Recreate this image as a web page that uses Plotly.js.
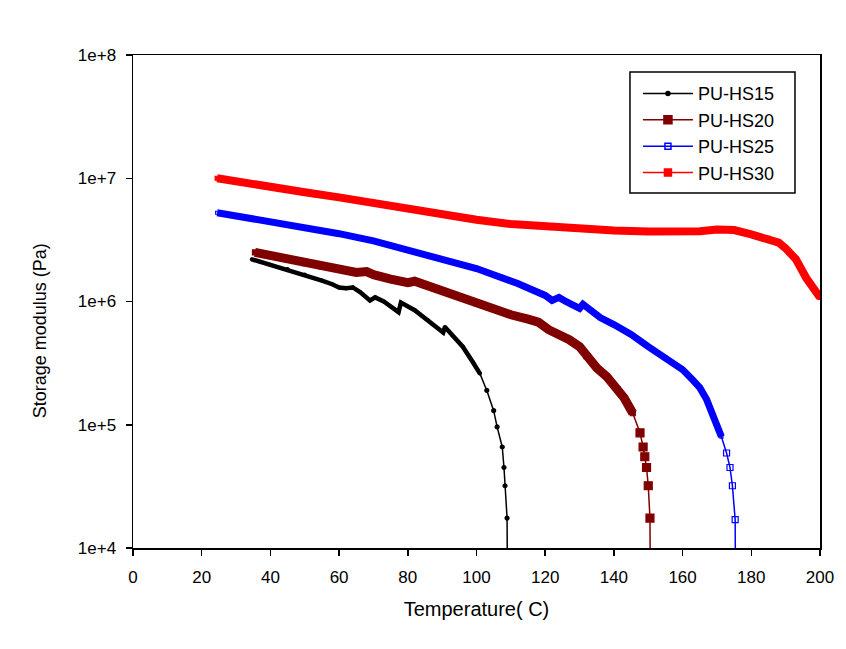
<!DOCTYPE html>
<html>
<head>
<meta charset="utf-8">
<script src="https://cdn.plot.ly/plotly-3.0.1.min.js"></script>
<style>html,body{margin:0;padding:0;background:#fff}#chart{width:846px;height:649px}</style>
</head>
<body>
<div id="chart"></div>
<script>
// Temperature (C) and storage modulus (Pa)
const hs15T = [34.6, 37, 40, 45, 50, 55, 58, 60, 62, 64, 66, 69, 70.5, 73, 77.3, 78, 82, 86, 90.3, 90.8, 93, 96, 99, 101, 103, 105, 106, 107.5, 108, 108.3, 108.9, 109];
const hs15G = [2.2e6, 2.1e6, 1.98e6, 1.83e6, 1.65e6, 1.48e6, 1.38e6, 1.3e6, 1.28e6, 1.3e6, 1.2e6, 1.02e6, 1.08e6, 1.0e6, 8.2e5, 9.8e5, 8.5e5, 7.0e5, 5.6e5, 6.2e5, 5.3e5, 4.3e5, 3.2e5, 2.6e5, 1.9e5, 1.3e5, 9.6e4, 6.6e4, 4.5e4, 3.2e4, 1.75e4, 5e3];

const hs20T = [35.5, 40, 45, 50, 55, 60, 65, 68, 70, 75, 80, 82, 85, 90, 95, 100, 105, 110, 115, 118, 121, 124, 127, 130, 132, 135, 138, 141, 143, 145.5, 147.6, 148.5, 149, 149.5, 150, 150.5, 150.6];
const hs20G = [2.5e6, 2.35e6, 2.2e6, 2.05e6, 1.92e6, 1.82e6, 1.72e6, 1.75e6, 1.65e6, 1.52e6, 1.42e6, 1.46e6, 1.36e6, 1.23e6, 1.1e6, 9.7e5, 8.7e5, 7.8e5, 7.2e5, 6.8e5, 5.9e5, 5.4e5, 4.9e5, 4.3e5, 3.6e5, 2.9e5, 2.45e5, 1.95e5, 1.65e5, 1.24e5, 8.6e4, 6.6e4, 5.5e4, 4.5e4, 3.2e4, 1.75e4, 5e3];

const hs25T = [24.5, 30, 40, 50, 60, 70, 80, 90, 100, 107, 112, 116, 120, 122, 124, 126, 128, 130, 131, 133, 136, 140, 145, 150, 155, 160, 163, 165, 167, 168.5, 170, 171.3, 172.8, 173.8, 174.5, 175.3, 175.4];
const hs25G = [5.25e6, 4.95e6, 4.5e6, 4.0e6, 3.55e6, 3.1e6, 2.65e6, 2.2e6, 1.85e6, 1.6e6, 1.4e6, 1.25e6, 1.12e6, 1.02e6, 1.08e6, 1.0e6, 9.2e5, 8.8e5, 9.5e5, 8.5e5, 7.4e5, 6.5e5, 5.4e5, 4.3e5, 3.5e5, 2.8e5, 2.3e5, 2.0e5, 1.6e5, 1.25e5, 1.0e5, 8e4, 5.9e4, 4.5e4, 3.2e4, 1.7e4, 5e3];

const hs30T = [24.5, 30, 40, 50, 60, 70, 80, 90, 100, 110, 120, 130, 140, 150, 160, 165, 170, 175, 180, 185, 188, 190, 193, 196, 198, 200];
const hs30G = [1.0e7, 9.4e6, 8.5e6, 7.7e6, 7.0e6, 6.3e6, 5.6e6, 5.1e6, 4.6e6, 4.25e6, 4.05e6, 3.88e6, 3.76e6, 3.7e6, 3.68e6, 3.72e6, 3.83e6, 3.8e6, 3.5e6, 3.25e6, 3.0e6, 2.7e6, 2.2e6, 1.55e6, 1.28e6, 1.08e6];

const seriesNames = ['PU-HS15', 'PU-HS20', 'PU-HS25', 'PU-HS30'];
const yTickVals = [1e4, 1e5, 1e6, 1e7, 1e8];
const yTickText = ['1e+4', '1e+5', '1e+6', '1e+7', '1e+8'];
const xTickVals = [0, 20, 40, 60, 80, 100, 120, 140, 160, 180, 200];

const styles = [
  {T: hs15T, G: hs15G, color: '#000000', band: 4.5, bandEnd: 2.6e5, sym: 'circle', size: 4, bandSize: 3},
  {T: hs20T, G: hs20G, color: '#800000', band: 9, bandEnd: 1e5, sym: 'square', size: 8, bandSize: 5},
  {T: hs25T, G: hs25G, color: '#0000ff', band: 7, bandEnd: 6e4, sym: 'square-open', size: 6, bandSize: 3},
  {T: hs30T, G: hs30G, color: '#ff0000', band: 8, bandEnd: 0, sym: 'square', size: 7, bandSize: 4}
];

const font = {family: 'Liberation Sans, Arial, sans-serif', color: '#000'};
const traces = [];
styles.forEach((s, i) => {
  const bx = [], by = [], sizes = [];
  for (let k = 0; k < s.T.length; k++) {
    const inBand = s.G[k] >= s.bandEnd;
    if (inBand) { bx.push(s.T[k]); by.push(s.G[k]); }
    sizes.push(inBand ? s.bandSize : s.size);
  }
  // thick band made of the dense measured points
  traces.push({x: bx, y: by, type: 'scatter', mode: 'lines', showlegend: false,
    hoverinfo: 'skip', line: {color: s.color, width: s.band}});
  // full curve with markers
  traces.push({x: s.T, y: s.G, type: 'scatter', mode: 'lines+markers', showlegend: false,
    line: {color: s.color, width: 1.5},
    marker: {symbol: s.sym, size: sizes, opacity: 1, color: s.color, line: {color: s.color, width: 1.2}}});
  // legend entry
  traces.push({x: [null], y: [null], type: 'scatter', mode: 'lines+markers', name: seriesNames[i],
    line: {color: s.color, width: 1.5},
    marker: {symbol: s.sym, size: s.size, opacity: 1, color: s.color, line: {color: s.color, width: 1.5}}});
});

const layout = {
  width: 846, height: 649,
  paper_bgcolor: '#fff', plot_bgcolor: '#fff',
  margin: {l: 133, r: 26, t: 55, b: 101},
  font: Object.assign({size: 17}, font),
  showlegend: true,
  legend: {x: 0.735, y: 0.959, xanchor: 'left', yanchor: 'top', bgcolor: 'rgba(0,0,0,0)',
    borderwidth: 0, font: Object.assign({size: 18}, font), tracegroupgap: 0, itemwidth: 50},
  xaxis: {
    range: [0, 200], tickvals: xTickVals, ticks: 'outside', ticklen: 6, tickwidth: 1.5,
    tickcolor: '#000', showline: true, linecolor: '#000', linewidth: 1.5, mirror: true,
    showgrid: false, zeroline: false, ticklabelstandoff: 7,
    tickfont: Object.assign({size: 17}, font),
    title: {text: 'Temperature( C)', font: Object.assign({size: 20}, font), standoff: 16}
  },
  yaxis: {
    type: 'log', range: [4, 8], tickvals: yTickVals, ticktext: yTickText,
    ticks: 'outside', ticklen: 6, tickwidth: 1.5, tickcolor: '#000',
    showline: true, linecolor: '#000', linewidth: 1.5, mirror: true,
    showgrid: false, zeroline: false, ticklabelstandoff: 6,
    tickfont: Object.assign({size: 17}, font)
  },
  shapes: [{type: 'rect', xref: 'paper', yref: 'paper', x0: 0.7234, x1: 0.9636, y0: 0.7201, y1: 0.9655,
    line: {color: '#000', width: 1.5}, fillcolor: 'rgba(0,0,0,0)'}],
  annotations: [{text: 'Storage modulus (Pa)', xref: 'paper', yref: 'paper', x: -0.135, y: 0.44,
    textangle: -90, showarrow: false, xanchor: 'center', yanchor: 'middle',
    font: Object.assign({size: 18}, font)}]
};

Plotly.newPlot('chart', traces, layout, {displayModeBar: false, staticPlot: true});
</script>
</body>
</html>
